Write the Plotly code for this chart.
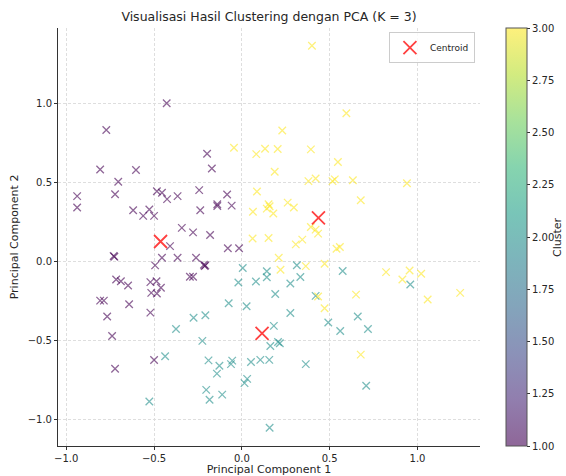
import plotly.graph_objects as go

# ---- data ----
pc1_c1 = [-0.938, -0.938, -0.807, -0.772, -0.722, -0.704, -0.603, -0.619, -0.562, -0.527,
          -0.500, -0.484, -0.455, -0.426, -0.366, -0.428, -0.342, -0.278, -0.243, -0.237,
          -0.198, -0.171, -0.181, -0.140, -0.140, -0.084, -0.058, -0.080, -0.016, -0.409,
          -0.455, -0.366, -0.730, -0.726, -0.494, -0.261, -0.216, -0.208, -0.212, -0.296,
          -0.278, -0.716, -0.689, -0.648, -0.521, -0.486, -0.461, -0.516, -0.484, -0.807,
          -0.786, -0.642, -0.767, -0.521, -0.739, -0.500, -0.722]
pc2_c1 = [0.413, 0.341, 0.582, 0.832, 0.425, 0.504, 0.578, 0.324, 0.288, 0.328,
          0.288, 0.444, 0.434, 0.394, 0.413, 1.001, 0.212, 0.184, 0.451, 0.324,
          0.681, 0.588, 0.167, 0.362, 0.351, 0.423, 0.353, 0.083, 0.083, 0.097,
          0.023, 0.023, 0.034, 0.030, -0.025, 0.023, -0.021, -0.025, -0.030, -0.097,
          -0.097, -0.114, -0.125, -0.152, -0.131, -0.125, -0.167, -0.199, -0.203, -0.248,
          -0.248, -0.271, -0.349, -0.324, -0.472, -0.624, -0.679]

pc1_c2 = [0.005, -0.020, 0.080, 0.142, 0.142, 0.313, 0.333, 0.276, 0.190, 0.027,
          -0.075, -0.208, -0.275, -0.375, 0.276, 0.420, 0.574, 0.959, 0.660, 0.718,
          0.492, 0.560, 0.182, -0.225, 0.162, 0.206, 0.216, -0.437, -0.190, -0.128,
          -0.055, -0.062, -0.142, 0.052, 0.105, 0.156, 0.364, 0.030, 0.015, -0.203,
          -0.184, -0.112, -0.527, 0.708, 0.158]
pc2_c2 = [-0.042, -0.133, -0.127, -0.062, -0.100, -0.024, -0.099, -0.140, -0.206, -0.284,
          -0.265, -0.341, -0.357, -0.428, -0.326, -0.218, -0.061, -0.146, -0.349, -0.428,
          -0.387, -0.440, -0.408, -0.503, -0.535, -0.510, -0.518, -0.600, -0.626, -0.660,
          -0.628, -0.650, -0.710, -0.636, -0.623, -0.623, -0.650, -0.743, -0.770, -0.813,
          -0.875, -0.843, -0.886, -0.787, -1.053]

pc1_c3 = [0.399, 0.595, 0.230, -0.045, 0.082, 0.132, 0.204, 0.393, 0.547, 0.187,
          0.379, 0.420, 0.516, 0.529, 0.632, 0.940, 0.086, 0.677, 0.261, 0.296,
          0.152, 0.158, 0.142, 0.063, 0.179, 0.393, 0.420, 0.434, 0.344, 0.307,
          0.061, 0.152, 0.539, 0.558, 0.210, 0.220, 0.364, 0.471, 0.821, 0.914,
          0.955, 1.021, 1.058, 1.243, 0.650, 0.434, 0.471, 0.677]
pc2_c3 = [1.365, 0.938, 0.828, 0.719, 0.679, 0.713, 0.711, 0.709, 0.629, 0.567,
          0.508, 0.525, 0.508, 0.519, 0.514, 0.495, 0.442, 0.387, 0.372, 0.341,
          0.362, 0.349, 0.334, 0.314, 0.303, 0.218, 0.201, 0.176, 0.138, 0.108,
          0.145, 0.148, 0.080, 0.091, 0.023, -0.053, -0.030, -0.015, -0.068, -0.114,
          -0.057, -0.078, -0.241, -0.199, -0.210, -0.222, -0.296, -0.590]

centroid_pc1 = [-0.463, 0.436, 0.115]
centroid_pc2 = [0.126, 0.275, -0.455]

cluster_labels = [1, 2, 3]
colorbar_ticks = [1.00, 1.25, 1.50, 1.75, 2.00, 2.25, 2.50, 2.75, 3.00]

pc1 = pc1_c1 + pc1_c2 + pc1_c3
pc2 = pc2_c1 + pc2_c2 + pc2_c3
cluster = ([cluster_labels[0]] * len(pc1_c1) + [cluster_labels[1]] * len(pc1_c2)
           + [cluster_labels[2]] * len(pc1_c3))

viridis = ["#440154", "#482878", "#3e4989", "#31688e", "#26828e",
           "#1f9e89", "#35b779", "#6ece58", "#b5de2b", "#fde725"]


def rgba(h, a=0.6):
    h = h.lstrip("#")
    return "rgba(%d,%d,%d,%.2f)" % (int(h[0:2], 16), int(h[2:4], 16), int(h[4:6], 16), a)


cscale = [[i / (len(viridis) - 1), rgba(c)] for i, c in enumerate(viridis)]

FONT = "DejaVu Sans"
TXT = "#262626"

fig = go.Figure()
fig.add_trace(go.Scatter(
    x=pc1, y=pc2, mode="markers", showlegend=False,
    marker=dict(symbol="x-thin", size=7.5, color=cluster, colorscale=cscale,
                cmin=1, cmax=3,
                line=dict(width=1.3, color=cluster, colorscale=cscale, cmin=1, cmax=3),
                showscale=True,
                colorbar=dict(x=1.062, xanchor="left", y=0.5, yanchor="middle",
                              len=1, lenmode="fraction", thickness=21,
                              outlinecolor="#555555", outlinewidth=1,
                              ticks="outside", ticklen=3, tickcolor="#333333",
                              tickvals=colorbar_ticks,
                              ticktext=["%.2f" % t for t in colorbar_ticks],
                              tickfont=dict(family=FONT, size=10, color=TXT),
                              xpad=0, ypad=0)),
    hoverinfo="x+y"))
fig.add_trace(go.Scatter(
    x=centroid_pc1, y=centroid_pc2, mode="markers", name="Centroid",
    marker=dict(symbol="x-thin", size=13, color="rgba(255,0,0,0.75)",
                line=dict(width=1.8, color="rgba(255,0,0,0.75)"))))

axis_common = dict(showline=True, linecolor="#333333", linewidth=1, mirror=False,
                   ticks="outside", ticklen=3, tickcolor="#333333",
                   showgrid=True, gridcolor="#dedede", griddash="3px,2px",
                   gridwidth=0.7, zeroline=False, automargin=False,
                   tickfont=dict(family=FONT, size=10, color=TXT))

fig.update_layout(
    template="none",
    width=566, height=476,
    margin=dict(l=58, r=86, t=28, b=30, autoexpand=False),
    paper_bgcolor="white", plot_bgcolor="white",
    font=dict(family=FONT, color=TXT),
    title=dict(text="Visualisasi Hasil Clustering dengan PCA (K = 3)",
               x=0.5, xref="paper", xanchor="center",
               y=1 - 17 / 476, yref="container", yanchor="middle",
               font=dict(family=FONT, size=12.5, color=TXT)),
    xaxis=dict(range=[-1.047, 1.356], tickvals=[-1.0, -0.5, 0.0, 0.5, 1.0],
               ticktext=["−1.0", "−0.5", "0.0", "0.5", "1.0"],
               title=dict(text="Principal Component 1", standoff=4,
                          font=dict(family=FONT, size=11, color=TXT)),
               **axis_common),
    yaxis=dict(range=[-1.168, 1.477], tickvals=[-1.0, -0.5, 0.0, 0.5, 1.0],
               ticktext=["−1.0", "−0.5", "0.0", "0.5", "1.0"],
               title=dict(text="Principal Component 2", standoff=6,
                          font=dict(family=FONT, size=11, color=TXT)),
               **axis_common),
    legend=dict(x=0.988, y=0.99, xanchor="right", yanchor="top",
                bgcolor="rgba(255,255,255,0.8)", bordercolor="#cccccc", borderwidth=1,
                font=dict(family=FONT, size=9, color=TXT)),
    annotations=[dict(text="Cluster", textangle=-90, xref="paper", yref="paper",
                      x=(557 - 58) / 422, y=0.5, xanchor="center", yanchor="middle",
                      showarrow=False, font=dict(family=FONT, size=11, color=TXT))],
)

fig.write_html("out.html", config={"displayModeBar": False},
               post_script="document.body.style.margin='0px';document.body.style.overflow='hidden';")
